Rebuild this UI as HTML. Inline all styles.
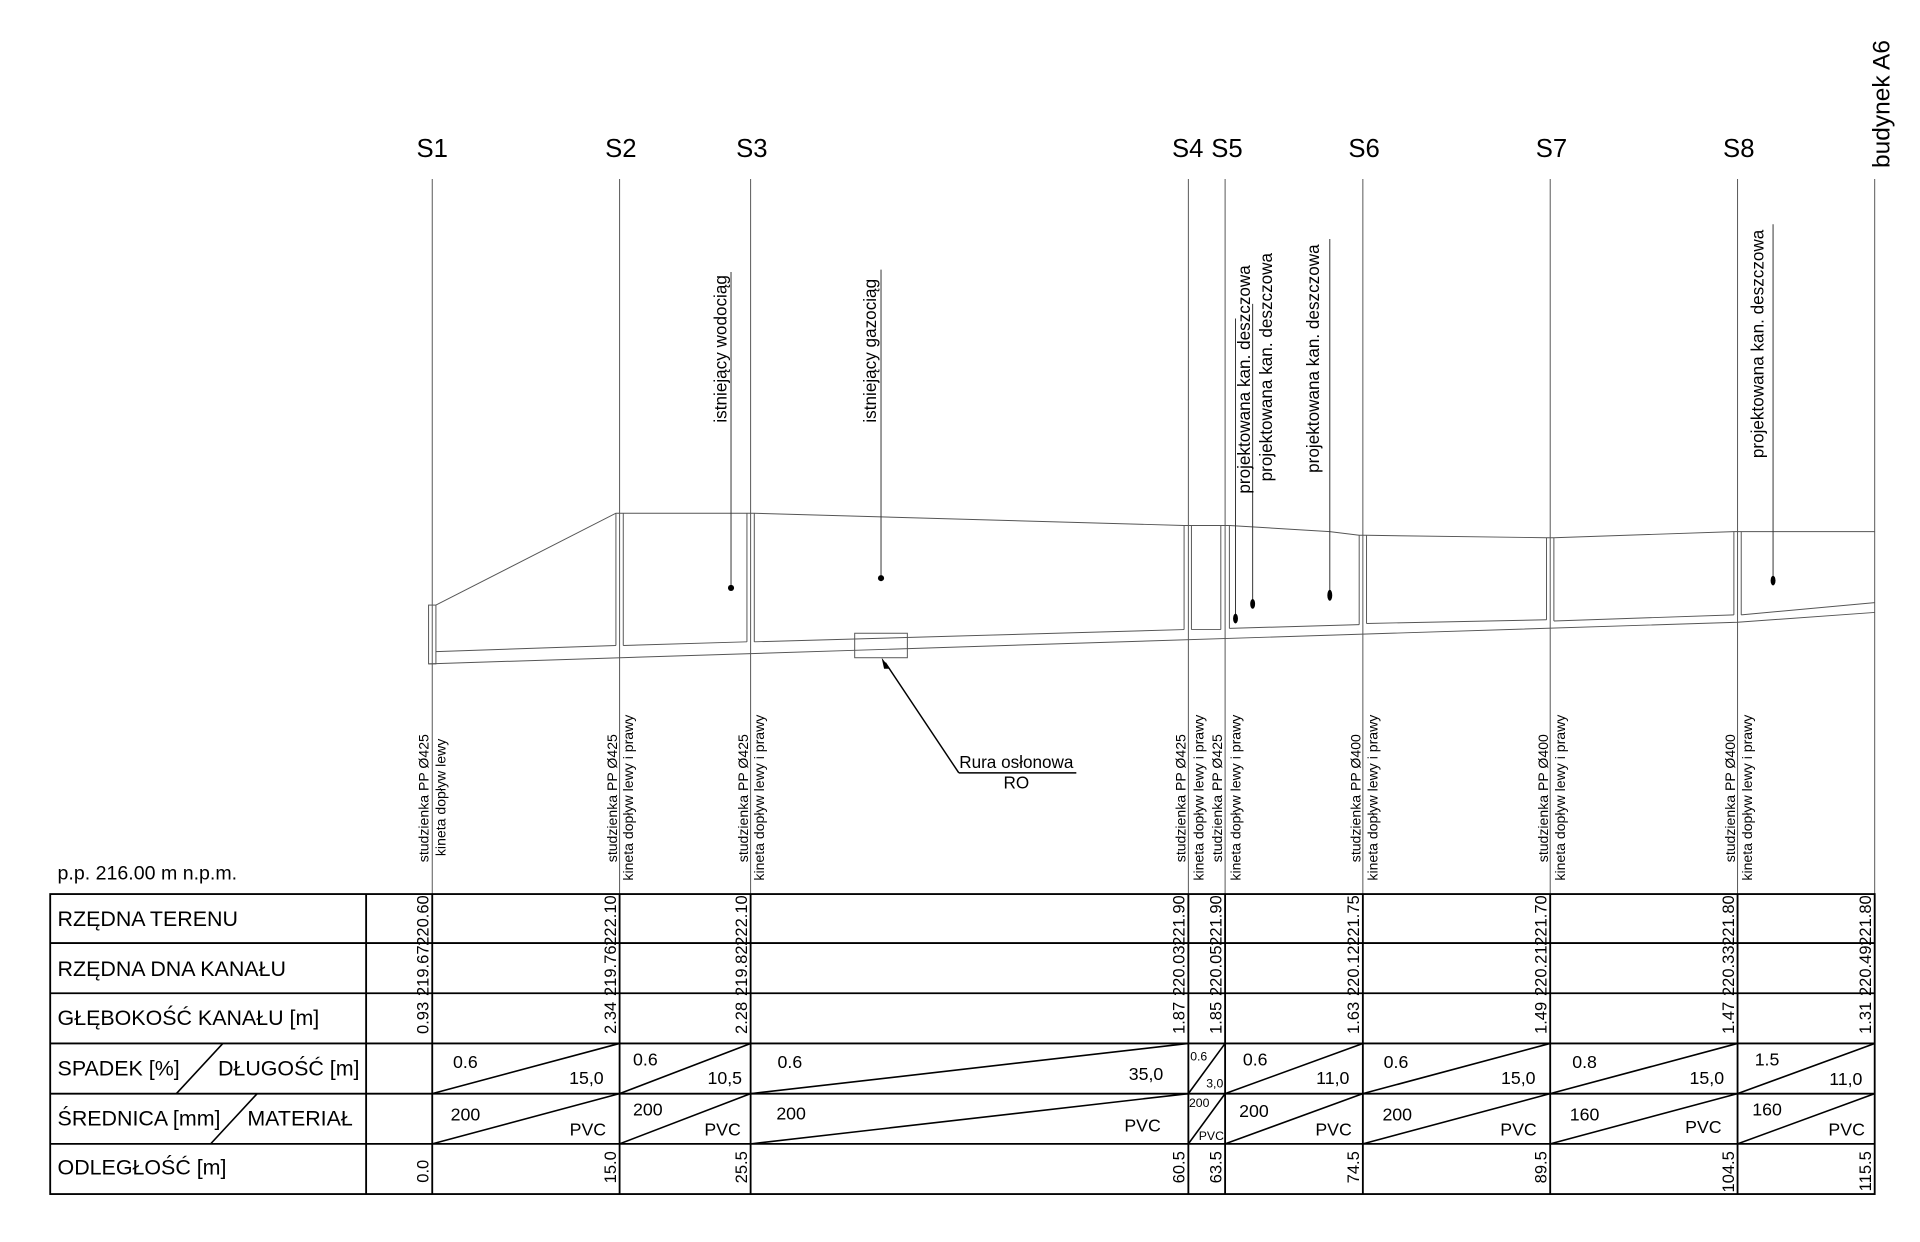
<!DOCTYPE html>
<html><head><meta charset="utf-8"><style>
html,body{margin:0;padding:0;background:#fff}
svg{display:block}
text{font-family:"Liberation Sans",Arial,sans-serif;fill:#000}
</style></head><body>
<svg xmlns="http://www.w3.org/2000/svg" width="1920" height="1242" viewBox="0 0 1568 1014">
<rect width="1568" height="1014" fill="#fff"/>
<g font-size="21" text-anchor="middle">
<text x="353" y="128">S1</text><text x="507" y="128">S2</text><text x="614" y="128">S3</text>
<text x="970" y="128">S4</text><text x="1002" y="128">S5</text><text x="1114" y="128">S6</text>
<text x="1267" y="128">S7</text><text x="1420" y="128">S8</text>
</g>
<text font-size="20" transform="translate(1543,137) rotate(-90)">budynek A6</text>
<g stroke="#555" stroke-width="0.8">
<line x1="353" y1="146" x2="353" y2="975"/><line x1="506" y1="146" x2="506" y2="975"/>
<line x1="613" y1="146" x2="613" y2="975"/><line x1="970.5" y1="146" x2="970.5" y2="975"/>
<line x1="1000.5" y1="146" x2="1000.5" y2="975"/><line x1="1113" y1="146" x2="1113" y2="975"/>
<line x1="1266" y1="146" x2="1266" y2="975"/><line x1="1419" y1="146" x2="1419" y2="975"/>
<line x1="1531" y1="146" x2="1531" y2="975"/>
</g>
<g stroke="#555" stroke-width="0.8" fill="none">
<polyline points="356,494 503,419 616,419 967,429 1004,429 1086,434 1110,437 1116,437 1263,439 1269,439 1416,434 1531,434"/>
<polyline points="350,542 1419,508 1531,500"/>
<rect x="350" y="494" width="6" height="48"/>
<line x1="356" y1="532" x2="503" y2="527"/><line x1="503" y1="419" x2="503" y2="527"/>
<line x1="509" y1="419" x2="509" y2="527"/><line x1="509" y1="527" x2="610" y2="524"/><line x1="610" y1="419" x2="610" y2="524"/>
<line x1="616" y1="419" x2="616" y2="524"/><line x1="616" y1="524" x2="967" y2="514"/><line x1="967" y1="429" x2="967" y2="514"/>
<line x1="973" y1="429" x2="973" y2="514"/><line x1="973" y1="514" x2="997" y2="514"/><line x1="997" y1="429" x2="997" y2="514"/>
<line x1="1004" y1="429" x2="1004" y2="513"/><line x1="1004" y1="513" x2="1110" y2="510"/><line x1="1110" y1="437" x2="1110" y2="510"/>
<line x1="1116" y1="437" x2="1116" y2="509"/><line x1="1116" y1="509" x2="1263" y2="506"/><line x1="1263" y1="439" x2="1263" y2="506"/>
<line x1="1269" y1="439" x2="1269" y2="507"/><line x1="1269" y1="507" x2="1416" y2="502"/><line x1="1416" y1="434" x2="1416" y2="502"/>
<line x1="1422" y1="434" x2="1422" y2="502"/><line x1="1422" y1="502" x2="1531" y2="492"/>
<rect x="698" y="517" width="43" height="20"/>
</g>
<g stroke="#333" stroke-width="0.8">
<line x1="597" y1="222" x2="597" y2="480"/><line x1="719.5" y1="220" x2="719.5" y2="472"/>
<line x1="1009" y1="260" x2="1009" y2="505"/><line x1="1023" y1="248" x2="1023" y2="493"/>
<line x1="1086" y1="195" x2="1086" y2="486"/><line x1="1448" y1="183" x2="1448" y2="474"/>
</g>
<g fill="#000">
<ellipse cx="597" cy="480" rx="2.5" ry="2.5"/><ellipse cx="719.5" cy="472" rx="2.5" ry="2.5"/>
<ellipse cx="1009" cy="505" rx="2" ry="4"/><ellipse cx="1023" cy="493" rx="2" ry="4"/>
<ellipse cx="1086" cy="486" rx="2" ry="4.5"/><ellipse cx="1448" cy="474" rx="2" ry="4"/>
</g>
<g font-size="14">
<text transform="translate(593.5,345) rotate(-90)">istniejący wodociąg</text>
<text transform="translate(715.5,345) rotate(-90)">istniejący gazociąg</text>
<text transform="translate(1021,403) rotate(-90)">projektowana kan. deszczowa</text>
<text transform="translate(1039,393) rotate(-90)">projektowana kan. deszczowa</text>
<text transform="translate(1077,386) rotate(-90)">projektowana kan. deszczowa</text>
<text transform="translate(1440,374) rotate(-90)">projektowana kan. deszczowa</text>
</g>
<line x1="783" y1="631" x2="723" y2="541" stroke="#000" stroke-width="1.2"/>
<polygon points="720,537 727,546 722,546" fill="#000"/>
<line x1="783" y1="631" x2="879" y2="631" stroke="#000" stroke-width="1.2"/>
<text x="830" y="627" font-size="14" text-anchor="middle">Rura osłonowa</text>
<text x="830" y="644" font-size="14" text-anchor="middle">RO</text>
<g font-size="11.5">
<text transform="translate(350,704) rotate(-90)">studzienka PP Ø425</text>
<text transform="translate(364,699) rotate(-90)">kineta dopływ lewy</text>
<text transform="translate(504,704) rotate(-90)">studzienka PP Ø425</text>
<text transform="translate(517,719) rotate(-90)">kineta dopływ lewy i prawy</text>
<text transform="translate(611,704) rotate(-90)">studzienka PP Ø425</text>
<text transform="translate(624,719) rotate(-90)">kineta dopływ lewy i prawy</text>
<text transform="translate(968,704) rotate(-90)">studzienka PP Ø425</text>
<text transform="translate(983,719) rotate(-90)">kineta dopływ lewy i prawy</text>
<text transform="translate(998,704) rotate(-90)">studzienka PP Ø425</text>
<text transform="translate(1013,719) rotate(-90)">kineta dopływ lewy i prawy</text>
<text transform="translate(1111,704) rotate(-90)">studzienka PP Ø400</text>
<text transform="translate(1125,719) rotate(-90)">kineta dopływ lewy i prawy</text>
<text transform="translate(1264,704) rotate(-90)">studzienka PP Ø400</text>
<text transform="translate(1278,719) rotate(-90)">kineta dopływ lewy i prawy</text>
<text transform="translate(1417,704) rotate(-90)">studzienka PP Ø400</text>
<text transform="translate(1431,719) rotate(-90)">kineta dopływ lewy i prawy</text>
</g>
<text x="47" y="718" font-size="16">p.p. 216.00 m n.p.m.</text>
<g stroke="#000" stroke-width="1.5" fill="none">
<rect x="41" y="730" width="1490" height="245"/>
<line x1="41" y1="770" x2="1531" y2="770"/><line x1="41" y1="811" x2="1531" y2="811"/>
<line x1="41" y1="852" x2="1531" y2="852"/><line x1="41" y1="893" x2="1531" y2="893"/>
<line x1="41" y1="934" x2="1531" y2="934"/>
<line x1="299" y1="730" x2="299" y2="975"/>
<line x1="353" y1="730" x2="353" y2="975"/><line x1="506" y1="730" x2="506" y2="975"/>
<line x1="613" y1="730" x2="613" y2="975"/><line x1="970.5" y1="730" x2="970.5" y2="975"/>
<line x1="1000.5" y1="730" x2="1000.5" y2="975"/><line x1="1113" y1="730" x2="1113" y2="975"/>
<line x1="1266" y1="730" x2="1266" y2="975"/><line x1="1419" y1="730" x2="1419" y2="975"/>
</g>
<g stroke="#000" stroke-width="1.3">
<line x1="144" y1="893" x2="182" y2="852"/><line x1="172" y1="934" x2="210" y2="893"/>
<line x1="353" y1="893" x2="506" y2="852"/><line x1="506" y1="893" x2="613" y2="852"/>
<line x1="613" y1="893" x2="970.5" y2="852"/><line x1="970.5" y1="893" x2="1000.5" y2="852"/>
<line x1="1000.5" y1="893" x2="1113" y2="852"/><line x1="1113" y1="893" x2="1266" y2="852"/>
<line x1="1266" y1="893" x2="1419" y2="852"/><line x1="1419" y1="893" x2="1531" y2="852"/>
<line x1="353" y1="934" x2="506" y2="893"/><line x1="506" y1="934" x2="613" y2="893"/>
<line x1="613" y1="934" x2="970.5" y2="893"/><line x1="970.5" y1="934" x2="1000.5" y2="893"/>
<line x1="1000.5" y1="934" x2="1113" y2="893"/><line x1="1113" y1="934" x2="1266" y2="893"/>
<line x1="1266" y1="934" x2="1419" y2="893"/><line x1="1419" y1="934" x2="1531" y2="893"/>
</g>
<g font-size="17.5">
<text x="47" y="756">RZĘDNA TERENU</text>
<text x="47" y="797">RZĘDNA DNA KANAŁU</text>
<text x="47" y="837">GŁĘBOKOŚĆ KANAŁU [m]</text>
<text x="47" y="878">SPADEK [%]</text><text x="178" y="878">DŁUGOŚĆ [m]</text>
<text x="47" y="919">ŚREDNICA [mm]</text><text x="202" y="919">MATERIAŁ</text>
<text x="47" y="959">ODLEGŁOŚĆ [m]</text>
</g>
<g font-size="13.5" text-anchor="end">
<text transform="translate(350,731) rotate(-90)">220.60</text>
<text transform="translate(350,772) rotate(-90)">219.67</text>
<text transform="translate(350,818) rotate(-90)">0.93</text>
<text transform="translate(350,947) rotate(-90)">0.0</text>
<text transform="translate(503,731) rotate(-90)">222.10</text>
<text transform="translate(503,772) rotate(-90)">219.76</text>
<text transform="translate(503,818) rotate(-90)">2.34</text>
<text transform="translate(503,940) rotate(-90)">15.0</text>
<text transform="translate(610,731) rotate(-90)">222.10</text>
<text transform="translate(610,772) rotate(-90)">219.82</text>
<text transform="translate(610,818) rotate(-90)">2.28</text>
<text transform="translate(610,940) rotate(-90)">25.5</text>
<text transform="translate(967.5,731) rotate(-90)">221.90</text>
<text transform="translate(967.5,772) rotate(-90)">220.03</text>
<text transform="translate(967.5,818) rotate(-90)">1.87</text>
<text transform="translate(967.5,940) rotate(-90)">60.5</text>
<text transform="translate(997.5,731) rotate(-90)">221.90</text>
<text transform="translate(997.5,772) rotate(-90)">220.05</text>
<text transform="translate(997.5,818) rotate(-90)">1.85</text>
<text transform="translate(997.5,940) rotate(-90)">63.5</text>
<text transform="translate(1110,731) rotate(-90)">221.75</text>
<text transform="translate(1110,772) rotate(-90)">220.12</text>
<text transform="translate(1110,818) rotate(-90)">1.63</text>
<text transform="translate(1110,940) rotate(-90)">74.5</text>
<text transform="translate(1263,731) rotate(-90)">221.70</text>
<text transform="translate(1263,772) rotate(-90)">220.21</text>
<text transform="translate(1263,818) rotate(-90)">1.49</text>
<text transform="translate(1263,940) rotate(-90)">89.5</text>
<text transform="translate(1416,731) rotate(-90)">221.80</text>
<text transform="translate(1416,772) rotate(-90)">220.33</text>
<text transform="translate(1416,818) rotate(-90)">1.47</text>
<text transform="translate(1416,940) rotate(-90)">104.5</text>
<text transform="translate(1528,731) rotate(-90)">221.80</text>
<text transform="translate(1528,772) rotate(-90)">220.49</text>
<text transform="translate(1528,818) rotate(-90)">1.31</text>
<text transform="translate(1528,940) rotate(-90)">115.5</text>
</g>
<g font-size="14.5">
<text x="370" y="872">0.6</text><text x="493" y="885" text-anchor="end">15,0</text>
<text x="517" y="870">0.6</text><text x="606" y="885" text-anchor="end">10,5</text>
<text x="635" y="872">0.6</text><text x="950" y="882" text-anchor="end">35,0</text>
<text x="1015" y="870">0.6</text><text x="1102" y="885" text-anchor="end">11,0</text>
<text x="1130" y="872">0.6</text><text x="1254" y="885" text-anchor="end">15,0</text>
<text x="1284" y="872">0.8</text><text x="1408" y="885" text-anchor="end">15,0</text>
<text x="1433" y="870">1.5</text><text x="1521" y="886" text-anchor="end">11,0</text>
<text x="368" y="915">200</text><text x="495" y="927" text-anchor="end">PVC</text>
<text x="517" y="911">200</text><text x="605" y="927" text-anchor="end">PVC</text>
<text x="634" y="914">200</text><text x="948" y="924" text-anchor="end">PVC</text>
<text x="1012" y="912">200</text><text x="1104" y="927" text-anchor="end">PVC</text>
<text x="1129" y="915">200</text><text x="1255" y="927" text-anchor="end">PVC</text>
<text x="1282" y="915">160</text><text x="1406" y="925" text-anchor="end">PVC</text>
<text x="1431" y="911">160</text><text x="1523" y="927" text-anchor="end">PVC</text>
</g>
<g font-size="10">
<text x="972" y="866">0.6</text><text x="999" y="888" text-anchor="end">3,0</text>
<text x="971" y="904">200</text><text x="979" y="931">PVC</text>
</g>
</svg>
</body></html>
